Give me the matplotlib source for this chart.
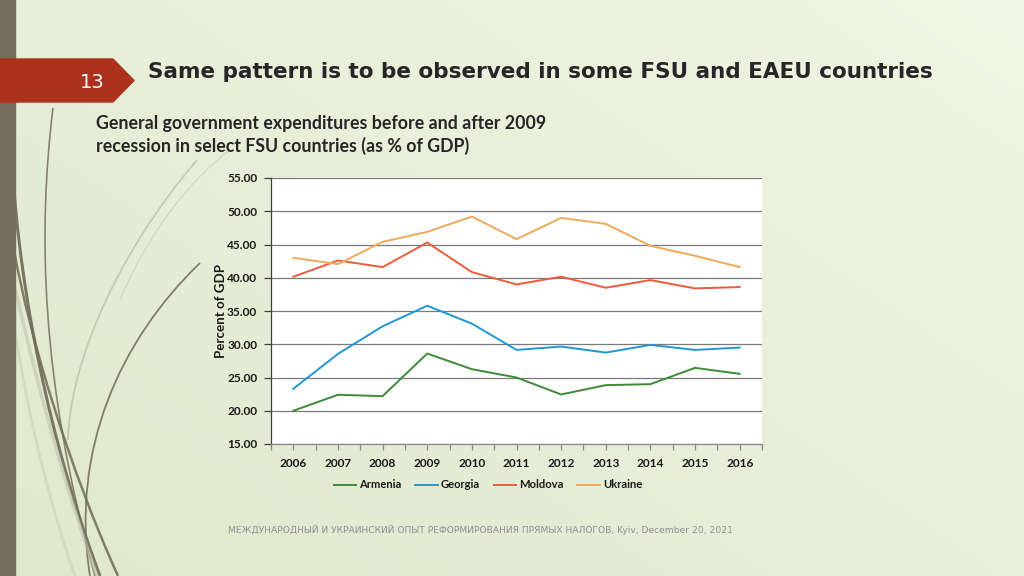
import numpy as np
import matplotlib
matplotlib.use("Agg")
import matplotlib.pyplot as plt
from matplotlib.path import Path
from matplotlib.patches import PathPatch, Polygon, Rectangle

years = ["2006", "2007", "2008", "2009", "2010", "2011", "2012", "2013", "2014", "2015", "2016"]
armenia = [20.0, 22.4, 22.2, 28.6, 26.25, 25.0, 22.45, 23.85, 24.0, 26.45, 25.55]
georgia = [23.3, 28.55, 32.7, 35.8, 33.1, 29.15, 29.65, 28.75, 29.9, 29.15, 29.5]
moldova = [40.15, 42.6, 41.6, 45.3, 40.85, 39.0, 40.15, 38.5, 39.65, 38.4, 38.6]
ukraine = [43.0, 42.05, 45.4, 46.9, 49.2, 45.8, 49.0, 48.1, 44.8, 43.3, 41.6]
series_names = ["Armenia", "Georgia", "Moldova", "Ukraine"]
series_colors = ["#3d8b37", "#1f97d6", "#ee5a3a", "#efa95b"]
yticks = [15, 20, 25, 30, 35, 40, 45, 50, 55]

W, H = 1024, 576
fig = plt.figure(figsize=(W / 100, H / 100), dpi=100)

# background
bg = fig.add_axes([0, 0, 1, 1])
bg.set_xlim(0, W)
bg.set_ylim(H, 0)
bg.axis("off")
yy, xx = np.mgrid[0:H, 0:W]
t = np.clip(0.55 * (xx / W) + 0.45 * (1 - yy / H), 0, 1)
c0 = np.array([0xe0, 0xe8, 0xcc]) / 255
c1 = np.array([0xf1, 0xf5, 0xe5]) / 255
img = c0[None, None, :] * (1 - t[..., None]) + c1[None, None, :] * t[..., None]
bg.imshow(img, extent=(0, W, H, 0), aspect="auto", zorder=0)

# decorative strands
def strand(p0, p1, p2, p3, color, lw, alpha):
    path = Path([p0, p1, p2, p3], [Path.MOVETO, Path.CURVE4, Path.CURVE4, Path.CURVE4])
    bg.add_patch(PathPatch(path, fill=False, edgecolor=color, lw=lw, alpha=alpha, zorder=1))

dark = "#6f6a55"
strand((100, 576), (60, 470), (25, 330), (14, 190), dark, 2.2, 0.9)
strand((118, 576), (70, 470), (30, 340), (14, 250), dark, 1.8, 0.85)
strand((53, 108), (38, 230), (40, 380), (95, 576), dark, 1.2, 0.8)
strand((200, 263), (120, 340), (70, 450), (90, 576), dark, 1.3, 0.85)
strand((197, 160), (120, 250), (70, 360), (68, 440), "#b5b8a2", 1.2, 0.7)
strand((15, 287), (40, 400), (70, 500), (97, 576), "#bfc3ae", 2.5, 0.6)
strand((15, 330), (30, 430), (55, 520), (75, 576), "#c9cdb8", 2.0, 0.5)
strand((230, 150), (190, 180), (150, 230), (120, 300), "#c2c6b0", 0.8, 0.6)

# left stripe
bg.add_patch(Rectangle((0, 0), 15, H, color="#736c58", zorder=2))
# banner
bg.add_patch(Polygon([(0, 59), (113, 59), (134, 80.5), (113, 102), (0, 102)],
                     closed=True, color="#ad321c", zorder=3))
bg.text(92, 82, "13", color="white", fontsize=14, family="DejaVu Sans",
        ha="center", va="center", zorder=4)
bg.text(148, 72, "Same pattern is to be observed in some FSU and EAEU countries",
        fontsize=15.5, fontweight="bold", family="DejaVu Sans", color="#262626",
        ha="left", va="center", zorder=4)
bg.text(96, 124, "General government expenditures before and after 2009",
        fontsize=12.8, fontweight="bold", family="Lato", color="#262626",
        ha="left", va="center", zorder=4)
bg.text(96, 146, "recession in select FSU countries (as % of GDP)",
        fontsize=12.8, fontweight="bold", family="Lato", color="#262626",
        ha="left", va="center", zorder=4)
bg.text(480, 530,
        "МЕЖДУНАРОДНЫЙ И УКРАИНСКИЙ ОПЫТ РЕФОРМИРОВАНИЯ ПРЯМЫХ НАЛОГОВ, Kyiv, December 20, 2021",
        fontsize=6.6, family="DejaVu Sans", color="#8f8f8f", ha="center", va="center", zorder=4)

# chart
L, R, T, B = 271, 762, 178, 444
ax = fig.add_axes([L / W, 1 - B / H, (R - L) / W, (B - T) / H])
ax.set_facecolor("white")
x = np.arange(len(years))
for name, vals, col in zip(series_names, [armenia, georgia, moldova, ukraine], series_colors):
    ax.plot(x, vals, color=col, lw=1.4, label=name, zorder=3)
ax.set_xlim(-0.5, len(years) - 0.5)
ax.set_ylim(15, 55)
ax.set_yticks(yticks)
ax.set_yticklabels([f"{v:.2f}" for v in yticks])
ax.set_xticks(x)
ax.set_xticklabels(years)
ax.set_xticks(np.arange(-0.5, len(years), 1.0), minor=True)
ax.grid(axis="y", color="#7a7a7a", lw=0.9, zorder=1)
for s in ["top", "right"]:
    ax.spines[s].set_visible(False)
ax.spines["left"].set_color("#404040")
ax.spines["left"].set_linewidth(0.9)
ax.spines["bottom"].set_color("#8a8a8a")
ax.spines["bottom"].set_linewidth(0.9)
ax.tick_params(axis="y", length=5, width=0.9, color="#404040", pad=5)
ax.tick_params(axis="x", which="both", length=4, width=0.9, color="#8a8a8a", pad=6)
for lab in ax.get_xticklabels() + ax.get_yticklabels():
    lab.set_family("Lato")
    lab.set_fontweight("bold")
    lab.set_fontsize(8.6)
    lab.set_color("#1a1a1a")
ax.set_ylabel("Percent of GDP", fontsize=9.6, fontweight="bold", family="Lato",
              color="#1a1a1a", labelpad=0)

leg = fig.legend(loc="center", bbox_to_anchor=(488 / W, 1 - 485 / H), ncol=4,
                 frameon=False, handlelength=2.0, handletextpad=0.3, columnspacing=1.2,
                 prop={"family": "Lato", "weight": "bold", "size": 8.1})
for txt in leg.get_texts():
    txt.set_color("#1a1a1a")

fig.savefig("out.png", dpi=100)
